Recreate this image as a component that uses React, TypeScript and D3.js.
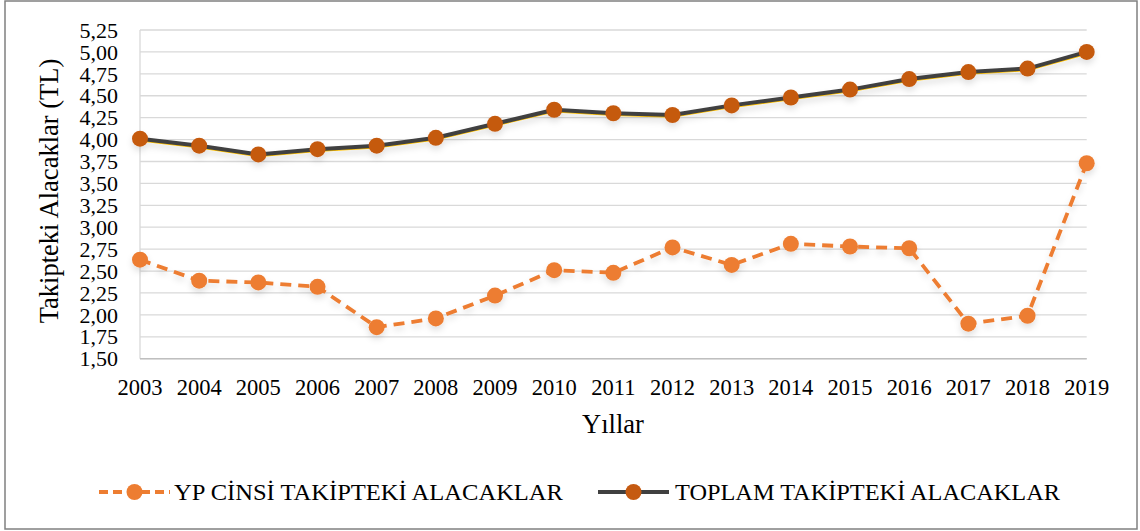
import React from "react";
import * as d3 from "d3";

const years = ["2003","2004","2005","2006","2007","2008","2009","2010","2011","2012","2013","2014","2015","2016","2017","2018","2019"];
const ypValues = [2.63,2.39,2.37,2.32,1.86,1.96,2.22,2.51,2.48,2.77,2.57,2.81,2.78,2.76,1.90,1.99,3.73];
const toplamValues = [4.01,3.93,3.83,3.89,3.93,4.02,4.18,4.34,4.30,4.28,4.39,4.48,4.57,4.69,4.77,4.81,5.00];
const yTicks = [1.5,1.75,2,2.25,2.5,2.75,3,3.25,3.5,3.75,4,4.25,4.5,4.75,5,5.25];
const seriesNames = ["YP CİNSİ TAKİPTEKİ ALACAKLAR", "TOPLAM TAKİPTEKİ ALACAKLAR"];
const yTitle = "Takipteki Alacaklar (TL)";
const xTitle = "Yıllar";

const W = 1140, H = 531;
const FONT = "Liberation Serif";

export default function App() {
  const x = d3.scalePoint<string>().domain(years).range([140, 1086.7]);
  const y = d3.scaleLinear().domain([1.5, 5.25]).range([358.7, 30]);
  const fmt = (v: number) => v.toFixed(2).replace(".", ",");
  const line = d3.line<number>().x((_, i) => x(years[i]) as number).y(d => y(d));

  return (
    <svg width={W} height={H} style={{ position: "absolute", left: 0, top: 0, background: "#fff", fontFamily: FONT }}>
      <defs>
        <filter id="sh" x="-5%" y="-20%" width="110%" height="160%">
          <feDropShadow dx="0" dy="4" stdDeviation="3" floodColor="#000" floodOpacity="0.12" />
        </filter>
      </defs>
      <rect x={5} y={1} width={1132} height={528} fill="#fff" stroke="#808080" strokeWidth={1.5} />
      {yTicks.map(t => (
        <line key={t} x1={140} x2={1086.7} y1={y(t)} y2={y(t)} stroke="#D9D9D9" strokeWidth={1.3} />
      ))}
      <line x1={140} x2={140} y1={y(5.25)} y2={y(1.5)} stroke="#D9D9D9" strokeWidth={1.3} />
      <line x1={140} x2={1086.7} y1={y(1.5)} y2={y(1.5)} stroke="#BFBFBF" strokeWidth={1.5} />
      {yTicks.map(t => (
        <text key={t} x={118} y={y(t)} dy="0.35em" textAnchor="end" fontFamily={FONT} fontSize={22} fill="#000">{fmt(t)}</text>
      ))}
      {years.map(yr => (
        <text key={yr} x={x(yr)} y={395} textAnchor="middle" fontFamily={FONT} fontSize={22.5} fill="#000">{yr}</text>
      ))}
      <text transform={`translate(58,191) rotate(-90)`} textAnchor="middle" fontFamily={FONT} fontSize={26.5} fill="#000">{yTitle}</text>
      <text x={613} y={433} textAnchor="middle" fontFamily={FONT} fontSize={26.5} fill="#000">{xTitle}</text>

      {/* Toplam series */}
      <g filter="url(#sh)">
        <path d={line(toplamValues) || ""} transform="translate(0,2)" fill="none" stroke="#FFC000" strokeWidth={1.5} />
        <path d={line(toplamValues) || ""} fill="none" stroke="#404040" strokeWidth={4} strokeLinejoin="round" />
        {toplamValues.map((v, i) => (
          <circle key={i} cx={x(years[i])} cy={y(v)} r={8} fill="#C55A11" />
        ))}
      </g>
      {/* YP series */}
      <g filter="url(#sh)">
        <path d={line(ypValues) || ""} fill="none" stroke="#ED7D31" strokeWidth={3.8} strokeDasharray="11,7" strokeLinejoin="round" />
        {ypValues.map((v, i) => (
          <circle key={i} cx={x(years[i])} cy={y(v)} r={8} fill="#ED7D31" />
        ))}
      </g>

      {/* Legend */}
      <g>
        <line x1={99} x2={170} y1={492} y2={492} stroke="#ED7D31" strokeWidth={3.8} strokeDasharray="9,5" />
        <circle cx={134.5} cy={492} r={8} fill="#ED7D31" />
        <text x={174} y={492} dy="0.35em" fontFamily={FONT} fontSize={24} fill="#000" textLength={389} lengthAdjust="spacingAndGlyphs">{seriesNames[0]}</text>
        <line x1={598} x2={669} y1={492} y2={492} stroke="#404040" strokeWidth={4} />
        <circle cx={633.5} cy={492} r={8} fill="#C55A11" />
        <text x={675} y={492} dy="0.35em" fontFamily={FONT} fontSize={24} fill="#000" textLength={385} lengthAdjust="spacingAndGlyphs">{seriesNames[1]}</text>
      </g>
    </svg>
  );
}
